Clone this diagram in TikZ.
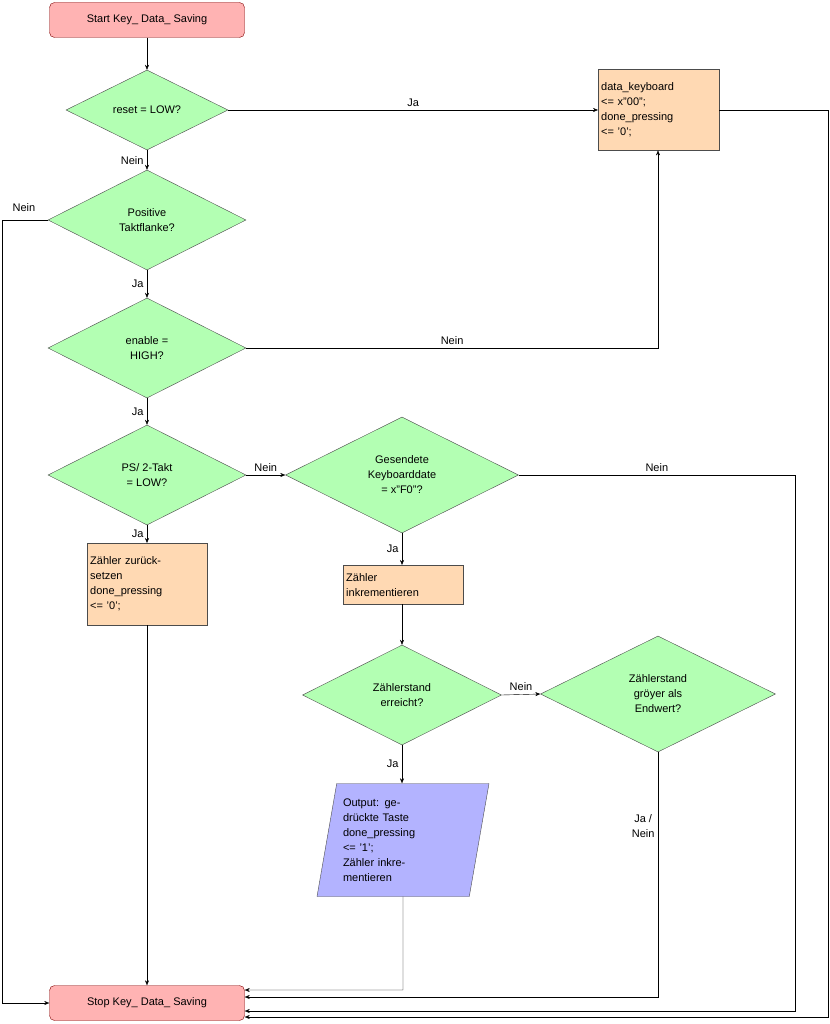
\documentclass[tikz,border=0pt]{standalone}
\usepackage{fontspec}
\setmainfont{Liberation Sans}
\usepackage{xcolor}
\usetikzlibrary{shapes.geometric,arrows.meta}
\definecolor{pinkish}{HTML}{FFB3B3}
\definecolor{greenish}{HTML}{B3FFB3}
\definecolor{orangish}{HTML}{FFD9B3}
\definecolor{bluish}{HTML}{B3B3FF}

\begin{document}
\begin{tikzpicture}[
   x=1pt, y=-1pt,
   every node/.append style={font=\fontsize{11}{15}\selectfont},
   terminal/.style={draw=red!50!black, fill=pinkish, rounded corners=5pt,
     minimum width=195pt, minimum height=35pt, inner sep=0},
   decision/.style={diamond, draw=black!70, fill=greenish, align=center,
     minimum width=198pt, minimum height=100pt, inner sep=0},
   actionbox/.style={draw=black!70, fill=orangish, anchor=north west,
     align=left, text width=114pt, inner sep=3pt},
   iobox/.style={trapezium, trapezium left angle=76.6, trapezium right angle=103.4,
     trapezium stretches body, draw=black!70, fill=bluish, align=left,
     minimum width=172pt, minimum height=113pt, inner sep=0, text width=120pt},
   flow/.style={draw, -{Stealth[length=5pt,width=4pt]}},
   lbl/.style={align=center}
]
\useasboundingbox (0,0) rectangle (829,1024);

% nodes
\node[terminal] (start) at (147,20) {Start Key\_ Data\_ Saving};
\node[decision, minimum width=162pt, minimum height=80pt] (reset) at (147,110) {reset = LOW?};
\node[actionbox, minimum height=81pt, text width=115pt] (clear) at (598,69)
  {data\_keyboard\\<= x"00";\\done\_pressing\\<= '0';};
\node[decision] (flanke) at (147,220) {Positive\\Taktflanke?};
\node[decision] (enable) at (147,348) {enable =\\HIGH?};
\node[decision] (takt) at (147,475) {PS/ 2-Takt\\= LOW?};
\node[decision, minimum width=233pt, minimum height=116pt] (fzero) at (402,475)
  {Gesendete\\Keyboarddate\\= x"F0"?};
\node[actionbox, minimum height=82pt] (reset cnt) at (87,543)
  {Zähler zurück-\\setzen\\done\_pressing\\<= '0';};
\node[actionbox, minimum height=39pt] (inc) at (343,565) {Zähler\\inkrementieren};
\node[decision, minimum width=199pt] (reached) at (402,695) {Zählerstand\\erreicht?};
\node[decision, minimum width=235pt, minimum height=116pt] (greater) at (658,694)
  {Zählerstand\\gröyer als\\Endwert?};
\node[iobox] (output) at (403,840)
  {Output: ge-\\drückte Taste\\done\_pressing\\<= '1';\\Zähler inkre-\\mentieren};
\node[terminal] (stop) at (147,1003) {Stop Key\_ Data\_ Saving};

\coordinate (d2 left) at (2,220);
\coordinate (d2 low) at (2,1003);

% connectors
\draw[flow] (start) -- (reset);
\draw[flow] (reset.east) -- node[above, pos=0.5]{Ja} (clear.west |- reset.east);
\draw[flow] (reset) -- node[left, pos=0.55]{Nein} (flanke);
\draw[flow] (flanke.west) -- (d2 left) -- (d2 low) -- (stop.west);
\node at (24,208) {Nein};
\draw[flow] (flanke) -- node[left]{Ja} (enable);
\draw[flow] (enable.east) -- node[above]{Nein} (658,348) -- (clear.south -| 658,0);
\draw[flow] (enable) -- node[left]{Ja} (takt);
\draw[flow] (takt.east) -- node[above]{Nein} (fzero.west);
\draw[flow] (takt) -- node[left]{Ja} (reset cnt.north -| takt.south);
\draw[flow] (reset cnt.south -| takt.south) -- (stop.north);
\draw[flow] (fzero.east) -- node[above, pos=0.5]{Nein} (795,475) -- (795,1011) -- (stop.east |- 0,1011);
\draw[flow] (fzero) -- node[left]{Ja} (inc.north -| fzero.south);
\draw[flow] (inc.south -| reached.north) -- (reached);
\draw[flow] (reached.east) -- node[above]{Nein} (greater.west);
\draw[flow] (reached) -- node[left]{Ja} (output.north -| reached.south);
\draw[flow] (output.south) -- (403,990) -- (stop.east |- 0,990);
\draw[flow] (greater.south) -- node[lbl, left, pos=0.3]{Ja /\\Nein} (658,997) -- (stop.east |- 0,997);
\draw[flow] (clear.east |- reset.east) -- (828,110) -- (828,1017) -- (stop.east |- 0,1017);
\end{tikzpicture}
\end{document}
